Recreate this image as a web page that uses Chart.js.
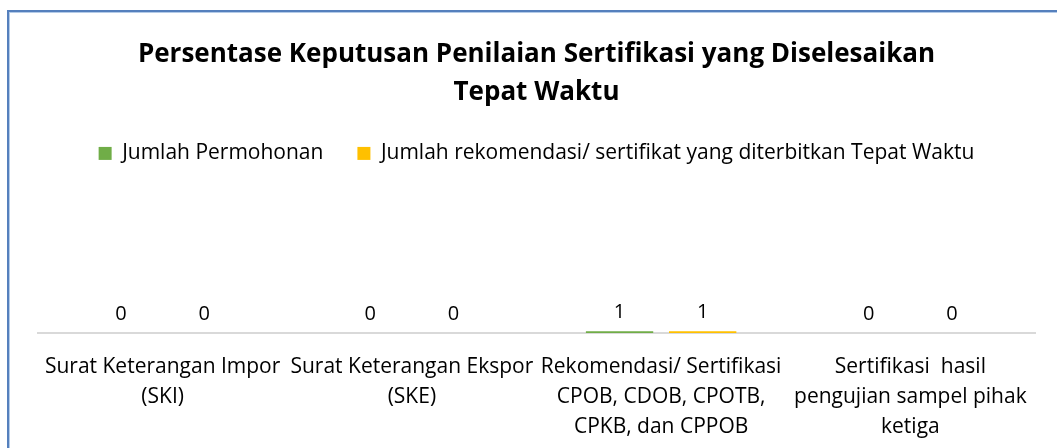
<!DOCTYPE html>
<html>
<head>
<meta charset="utf-8">
<script src="https://cdn.jsdelivr.net/npm/chart.js@4/dist/chart.umd.min.js"></script>
<style>
  html, body { margin: 0; padding: 0; background: #fff; overflow: hidden; }
  #wrap { position: relative; width: 1057px; height: 448px; overflow: hidden; }
  #frame {
    position: absolute; left: 7px; top: 10px; width: 1100px; height: 500px;
    border: 2px solid #5580bd; box-shadow: inset 1px 1px 0 #b4cbe8;
  }
  canvas { position: absolute; left: 0; top: 0; }
</style>
</head>
<body>
<div id="wrap">
  <div id="frame"></div>
  <canvas id="chart"></canvas>
</div>
<script>
	'use strict';
	var FONT = "'Open Sans', sans-serif";

	var categories = [
		['Surat Keterangan Impor', '(SKI)'],
		['Surat Keterangan Ekspor', '(SKE)'],
		['Rekomendasi/ Sertifikasi', 'CPOB, CDOB, CPOTB,', 'CPKB, dan CPPOB'],
		['Sertifikasi  hasil', 'pengujian sampel pihak', 'ketiga']
	];
	var seriesNames = ['Jumlah Permohonan', 'Jumlah rekomendasi/ sertifikat yang diterbitkan Tepat Waktu'];
	var permohonan = [0, 0, 1, 0];
	var tepatWaktu = [0, 0, 1, 0];
	var colors = ['#70ad47', '#ffc000'];

	// draws the value above each bar (no datalabels plugin here)
	const valueLabels = {
		id: 'valueLabels',
		afterDatasetsDraw(chart) {
			const ctx = chart.ctx;
			ctx.save();
			ctx.font = '20px ' + FONT;
			ctx.fillStyle = '#000000';
			ctx.textAlign = 'center';
			ctx.textBaseline = 'bottom';
			chart.data.datasets.forEach((ds, i) => {
				chart.getDatasetMeta(i).data.forEach((bar, j) => {
					ctx.fillText(String(ds.data[j]), bar.x, bar.y - 9);
				});
			});
			ctx.restore();
		}
	};

	const ctx = document.getElementById('chart');
	ctx.width = 1057;
	ctx.height = 465;

	new Chart(ctx, {
		type: 'bar',
		data: {
			labels: categories,
			datasets: [{
				label: seriesNames[0],
				data: permohonan,
				backgroundColor: colors[0],
				categoryPercentage: 0.667,
				barPercentage: 0.81
			}, {
				label: seriesNames[1],
				data: tepatWaktu,
				backgroundColor: colors[1],
				categoryPercentage: 0.667,
				barPercentage: 0.81
			}]
		},
		options: {
			responsive: false,
			animation: false,
			layout: {
				padding: { top: 26, left: 38, right: 22, bottom: 4 }
			},
			plugins: {
				tooltip: { enabled: false },
				title: {
					display: true,
					text: ['Persentase Keputusan Penilaian Sertifikasi yang Diselesaikan', 'Tepat Waktu'],
					color: '#000000',
					font: { family: FONT, size: 26, weight: 'bold', lineHeight: 1.46 },
					padding: { top: 10, bottom: -3 }
				},
				legend: {
					display: true,
					labels: {
						color: '#000000',
						boxWidth: 13,
						boxHeight: 13,
						padding: 34,
						font: { family: FONT, size: 21 }
					}
				}
			},
			scales: {
				x: {
					grid: { display: false, drawTicks: false },
					border: { color: '#d9d9d9', width: 2 },
					ticks: {
						color: '#000000',
						padding: 19,
						maxRotation: 0,
						autoSkip: false,
						font: { family: FONT, size: 21, lineHeight: 1.43 }
					}
				},
				y: {
					display: false,
					min: 0,
					max: 100
				}
			}
		},
		plugins: [valueLabels]
	});
</script>
</body>
</html>
